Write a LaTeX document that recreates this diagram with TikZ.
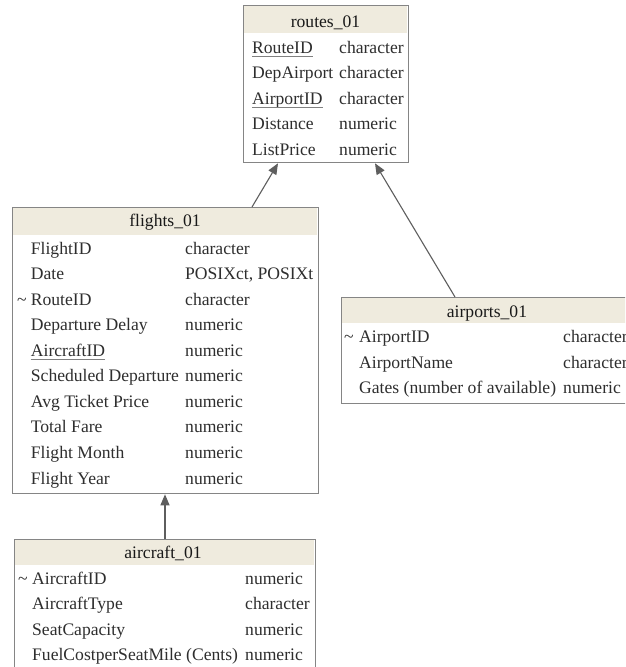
\documentclass[tikz,border=0pt]{standalone}
\usepackage{fontspec}
\setmainfont{Liberation Serif}
\newfontfamily\tnr{Liberation Serif}
\usetikzlibrary{arrows.meta}
\definecolor{hdr}{HTML}{EFEBDE}
\definecolor{bordc}{HTML}{858585}
\definecolor{txt}{HTML}{2E2E2E}
\definecolor{arrc}{HTML}{5E5E5E}
\tikzset{
  tbl/.style={draw=bordc, line width=1.3pt, rectangle, inner sep=0pt, anchor=north west},
  ttl/.style={font=\tnr\fontsize{17.6}{20}\selectfont, text=black!90, anchor=base, inner sep=0pt},
  fld/.style={font=\tnr\fontsize{17.6}{20}\selectfont, text=txt, anchor=base west, inner sep=0pt},
  ulin/.style={draw=gray, line width=0.9pt},
  rel/.style={draw=arrc, line width=1.1pt, -{Triangle[length=11pt,width=9pt]}}
}
\begin{document}
\begin{tikzpicture}[x=1pt,y=-1pt]
\useasboundingbox (0,0) rectangle (625,667);
\clip (0,0) rectangle (625,667);
\fill[white] (0,0) rectangle (625,667);

% ---------- routes_01 ----------
\fill[hdr] (243.6,5.6) rectangle (407.4,33);
\node[ttl] (rtitle) at (325.5,27) {routes\_01};
\foreach \n/\t [count=\i from 0] in {RouteID/character, DepAirport/character, AirportID/character, Distance/numeric, ListPrice/numeric}{
  \node[fld] (rn\i) at (252,53+25.5*\i) {\n};
  \node[fld] (rt\i) at (339,53+25.5*\i) {\t};
}
\draw[ulin] ([yshift=-3.3pt]rn0.base west) -- ([yshift=-3.3pt]rn0.base east);
\draw[ulin] ([yshift=-3.3pt]rn2.base west) -- ([yshift=-3.3pt]rn2.base east);
\node[tbl, minimum width=165pt, minimum height=157pt] (routes) at (243,5) {};

% ---------- flights_01 ----------
\fill[hdr] (12.6,207.6) rectangle (317.4,235);
\node[ttl] (ftitle) at (165,226.7) {flights\_01};
\foreach \n/\t [count=\i from 0] in {FlightID/character, Date/{POSIXct, POSIXt}, RouteID/character, Departure Delay/numeric, AircraftID/numeric, Scheduled Departure/numeric, Avg Ticket Price/numeric, Total Fare/numeric, Flight Month/numeric, Flight Year/numeric}{
  \node[fld] (fn\i) at (30.7,254+25.56*\i) {\n};
  \node[fld] (ft\i) at (185,254+25.56*\i) {\t};
}
\node[fld] (ftil) at (17,305.1) {\textasciitilde};
\draw[ulin] ([yshift=-3.3pt]fn4.base west) -- ([yshift=-3.3pt]fn4.base east);
\node[tbl, minimum width=306pt, minimum height=286pt] (flights) at (12,207) {};

% ---------- airports_01 ----------
\fill[hdr] (341.6,297.6) rectangle (632.4,323);
\node[ttl] (atitle) at (487,317) {airports\_01};
\foreach \n/\t [count=\i from 0] in {AirportID/character, AirportName/character, Gates (number of available)/numeric}{
  \node[fld] (an\i) at (359,342.7+25.6*\i) {\n};
  \node[fld] (at\i) at (563,342.7+25.6*\i) {\t};
}
\node[fld] (atil) at (344,342.7) {\textasciitilde};
\node[tbl, minimum width=292pt, minimum height=106pt] (airports) at (341,297) {};

% ---------- aircraft_01 ----------
\fill[hdr] (14.6,539.6) rectangle (314.4,565);
\node[ttl] (ctitle) at (163,558) {aircraft\_01};
\foreach \n/\t [count=\i from 0] in {AircraftID/numeric, AircraftType/character, SeatCapacity/numeric, FuelCostperSeatMile (Cents)/numeric}{
  \node[fld] (cn\i) at (32,584+25.6*\i) {\n};
  \node[fld] (ct\i) at (245,584+25.6*\i) {\t};
}
\node[fld] (ctil) at (18,584) {\textasciitilde};
\node[tbl, minimum width=301pt, minimum height=160pt] (aircraft) at (14,539) {};

% ---------- relations ----------
\draw[rel] ([xshift=240pt]flights.north west) -- ([xshift=35pt]routes.south west);
\draw[rel] ([xshift=114pt]airports.north west) -- ([xshift=132pt]routes.south west);
\draw[rel] ([xshift=151pt]aircraft.north west) -- ([xshift=153pt]flights.south west);
\end{tikzpicture}
\end{document}
